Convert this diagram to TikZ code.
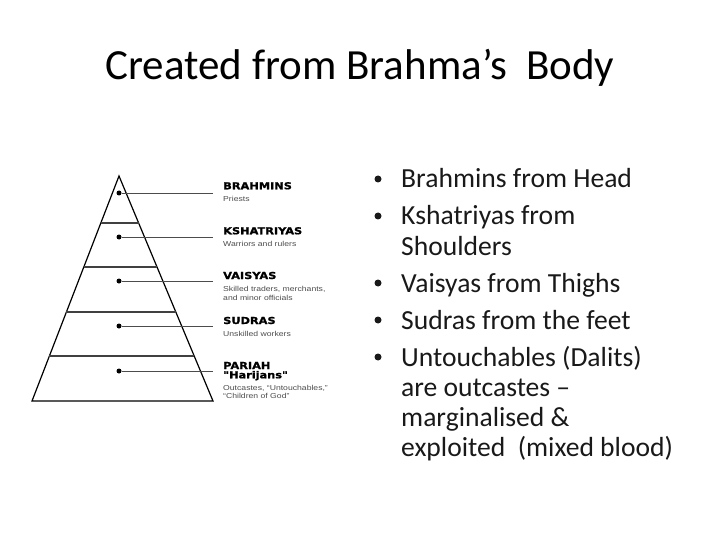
\documentclass[tikz,border=0pt]{standalone}
\usepackage{fontspec}
\setmainfont{Carlito}
\newfontfamily\castefont{DejaVu Sans}[FakeStretch=1.18,FakeBold=1.2]
\newfontfamily\rolefont{Liberation Sans}[FakeStretch=1.2]
\usetikzlibrary{calc}

\tikzset{
 caste/.style={font=\castefont\bfseries\fontsize{9.6}{11}\selectfont, anchor=base west, inner sep=0},
 role/.style={font=\rolefont\fontsize{7.2}{8}\selectfont, anchor=base west, inner sep=0, text=black!70},
 item/.style={font=\fontsize{27.6}{30}\selectfont, anchor=base west, inner sep=0, text=black!90},
 bul/.style={circle, fill=black!90, inner sep=0, minimum size=7pt},
 castedot/.style={circle, fill, inner sep=0, minimum size=5pt},
}

\begin{document}
\begin{tikzpicture}[x=1pt,y=-1pt]
 \useasboundingbox (0,0) rectangle (720,540);
 \node[font=\fontsize{43}{48}\selectfont, anchor=base, inner sep=0] (title) at (360,80) {Created from Brahma’s\ \ Body};
 % pyramid
 \coordinate (apex) at (119,176);
 \coordinate (baseL) at (32,401);
 \coordinate (baseR) at (213,401);
 \draw[line width=1.2pt, line join=miter] (apex) -- (baseL) -- (baseR) -- cycle;
 \foreach \y in {223,267,312,356}
  \draw[line width=1.6pt, black!75] ($(apex)!{(\y-176)/225}!(baseL)$) -- ($(apex)!{(\y-176)/225}!(baseR)$);
 % dots and leaders
 \foreach \n/\y in {brahmins/193,kshatriyas/237,vaisyas/281,sudras/326,pariah/371} {
  \node[castedot] (d\n) at (119,\y) {};
  \coordinate (e\n) at (213,\y);
  \draw[line width=0.8pt, black!70] (d\n) -- (e\n);
 }
 % caste labels
 \node[caste] (brahmins) at (223,189.3) {BRAHMINS};
 \node[role] (priests) at (223,202) {Priests};
 \node[caste] (kshatriyas) at (223,234.3) {KSHATRIYAS};
 \node[role] (warriors) at (223,246.7) {Warriors and rulers};
 \node[caste] (vaisyas) at (223,279) {VAISYAS};
 \node[role] (traders) at (223,291.7) {Skilled traders, merchants,};
 \node[role] (officials) at (223,300.7) {and minor officials};
 \node[caste] (sudras) at (223,324) {SUDRAS};
 \node[role] (workers) at (223,336) {Unskilled workers};
 \node[caste] (pariah) at (223,369) {PARIAH};
 \node[caste] (harijans) at (223,378.3) {"Harijans"};
 \node[role] (outcastes) at (223,390.7) {Outcastes, “Untouchables,”};
 \node[role] (children) at (223,398.3) {“Children of God”};
 % bullet list
 \foreach \n/\y in {1/188,2/225,3/292,4/329,5/366}
  \node[bul] (dot\n) at (378,\y-9) {};
 \node[item] (b1) at (401,188) {Brahmins from Head};
 \node[item] (b2) at (401,225) {Kshatriyas from};
 \node[item] (b2b) at (401,255) {Shoulders};
 \node[item] (b3) at (401,292) {Vaisyas from Thighs};
 \node[item] (b4) at (401,329) {Sudras from the feet};
 \node[item] (b5) at (401,366) {Untouchables (Dalits)};
 \node[item] (b5b) at (401,396) {are outcastes –};
 \node[item] (b5c) at (401,426) {marginalised \&};
 \node[item] (b5d) at (401,456) {exploited\ \ (mixed blood)};
\end{tikzpicture}
\end{document}
